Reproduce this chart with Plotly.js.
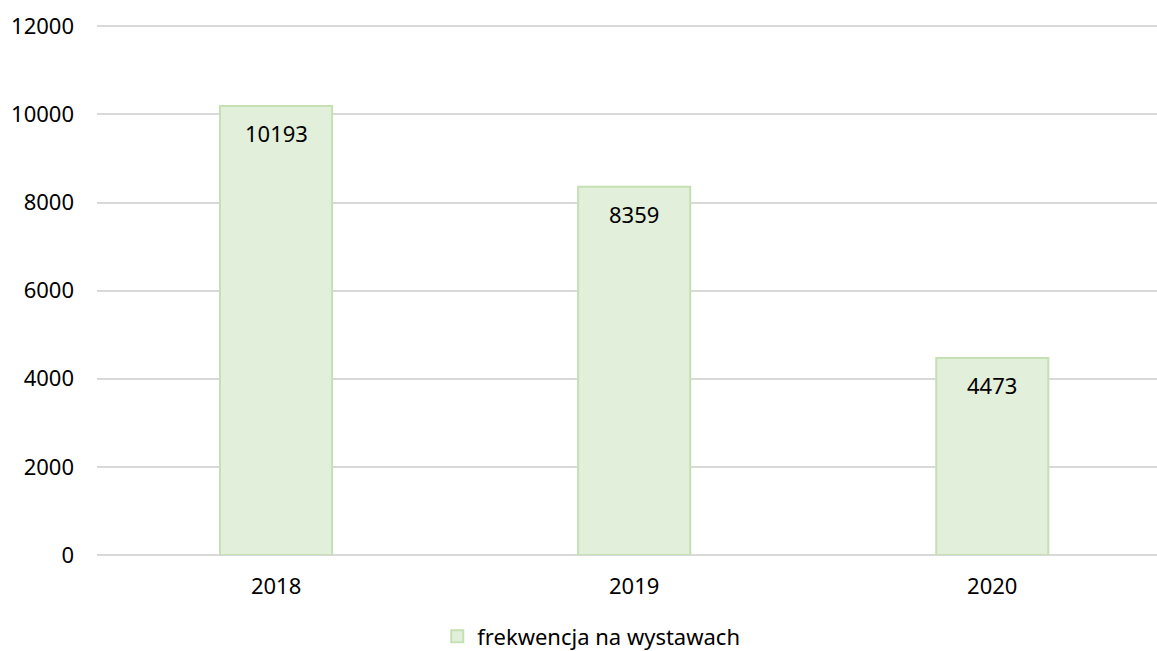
<!DOCTYPE html>
<html><head><meta charset="utf-8">
<script src="https://cdn.plot.ly/plotly-3.0.1.min.js"></script>
<style>body{margin:0;background:#fff}#chart{width:1157px;height:651px}</style>
</head><body><div id="chart"></div>
<script>
const categories = ['2018', '2019', '2020'];
const values = [10193, 8359, 4473];
const seriesName = 'frekwencja na wystawach';
const yTicks = [0, 2000, 4000, 6000, 8000, 10000, 12000];

const FONT = 'Noto Sans, Open Sans, sans-serif';
const labelAnnotations = [];
for (let i = 0; i < categories.length; i++) {
  labelAnnotations.push({
    x: i, y: values[i], xref: 'x', yref: 'y', text: String(values[i]),
    showarrow: false, xanchor: 'center', yanchor: 'middle', yshift: -27,
    font: {family: FONT, size: 22, color: '#000000'}
  });
}
Plotly.newPlot('chart', [{
  type: 'bar', x: categories, y: values, name: seriesName,
  width: 0.313,
  marker: {color: '#E2EFDA', line: {color: '#C5E0B3', width: 2}},
  showlegend: true, hoverinfo: 'none'
}], {
  width: 1157, height: 651,
  margin: {l: 97, r: 0, t: 24.7, b: 95.5, autoexpand: false},
  paper_bgcolor: '#fff', plot_bgcolor: '#fff',
  font: {family: FONT, size: 22, color: '#000'},
  xaxis: {type: 'category', range: [-0.5, 2.46], showgrid: false, zeroline: false,
          showline: false, ticks: '', ticklabelstandoff: 16, tickfont: {size: 22}, automargin: false},
  yaxis: {range: [0, 12030], tickvals: yTicks, ticktext: yTicks.map(String),
          showgrid: true, gridcolor: '#D9D9D9', gridwidth: 2, zeroline: true,
          zerolinecolor: '#D9D9D9', zerolinewidth: 2, automargin: false,
          showline: false, ticks: '', ticklabelstandoff: 22, tickfont: {size: 22}},
  annotations: labelAnnotations,
  showlegend: true,
  legend: {orientation: 'h', x: 0.321, xanchor: 'left', xref: 'paper', y: -0.1535, yref: 'paper', yanchor: 'middle',
           font: {size: 22}, traceorder: 'normal'},
  bargap: 0
}, {staticPlot: true});
</script></body></html>
